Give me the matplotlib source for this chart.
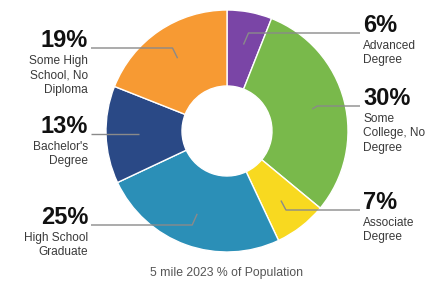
import numpy as np
import matplotlib.pyplot as plt

# education attainment, clockwise from the top
categories = ["Advanced\nDegree", "Some\nCollege, No\nDegree", "Associate\nDegree",
              "High School\nGraduate", "Bachelor's\nDegree", "Some High\nSchool, No\nDiploma"]
values = [6, 30, 7, 25, 13, 19]
colors = ["#7a45a6", "#79b94b", "#f8d920", "#2b8fb7", "#2a4986", "#f79a33"]
caption = "5 mile 2023 % of Population"

W, H = 444, 285
fig = plt.figure(figsize=(W / 100, H / 100), dpi=100)
ax = fig.add_axes([0, 0, 1, 1])

cx, cy = 227, H - 131
r_out, r_in = 121, 45
wedges, _ = ax.pie(values, colors=colors, startangle=90, counterclock=False,
                   center=(cx, cy), radius=r_out, frame=True,
                   wedgeprops=dict(width=r_out - r_in, edgecolor="white", linewidth=1))
ax.set_xlim(0, W)
ax.set_ylim(0, H)
ax.set_aspect("equal")
ax.axis("off")

# label line heights (pixels from top) and which side
label_y = [33, 106, 210, 225, 134, 48]
sides = [1, 1, 1, -1, -1, -1]
x_right, x_left = 360, 91

for w, v, cat, ly, side in zip(wedges, values, categories, label_y, sides):
    mid = np.deg2rad((w.theta1 + w.theta2) / 2)
    px = cx + 88 * np.cos(mid)
    py = cy + 88 * np.sin(mid)
    ly_d = H - ly
    ex = px + 5 * side if abs(ly_d - py) > 3 else px
    xe = x_right if side > 0 else x_left
    ax.plot([px, ex, xe], [py, ly_d, ly_d], color="#8a8a8a", lw=1, solid_capstyle="butt")
    ha = "left" if side > 0 else "right"
    tx = xe + 3 * side
    ax.text(tx, ly_d + 1, f"{v}%", ha=ha, va="baseline", fontsize=17,
            fontweight="bold", family="Liberation Sans", color="#111111")
    ax.text(tx, ly_d - 7, cat, ha=ha, va="top", fontsize=8.6, linespacing=1.25,
            family="Liberation Sans", color="#3a3a3a", multialignment=ha)

ax.text(226, H - 273, caption, ha="center", va="center", fontsize=8.8,
        family="Liberation Sans", color="#555555")

fig.savefig("out.png", dpi=100)
